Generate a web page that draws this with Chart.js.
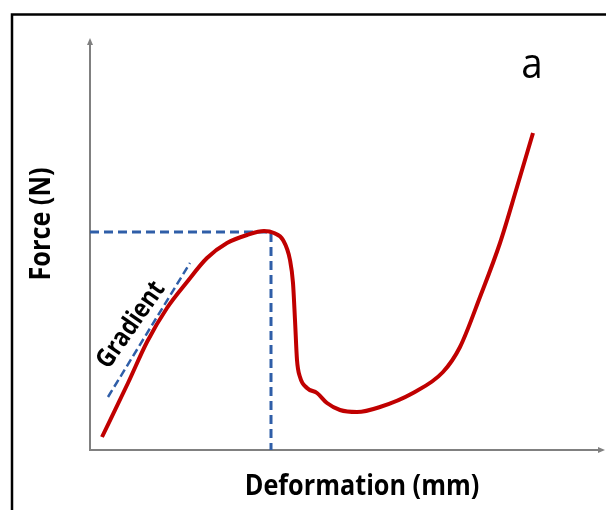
<!DOCTYPE html>
<html>
<head>
<meta charset="utf-8">
<script src="https://cdn.jsdelivr.net/npm/chart.js@4.4.1/dist/chart.umd.min.js"></script>
<style>
  html, body { margin: 0; padding: 0; background: #fff; }
  canvas { display: block; }
</style>
</head>
<body>
<canvas id="chart" width="606" height="510"></canvas>
<script>
// force-deformation curve (arbitrary units)
const curveX = [12, 38, 57, 77, 97, 117, 137, 157, 174, 184, 193, 200, 203, 205, 207, 210, 217, 227, 237, 250, 267, 290, 323, 353, 370, 390, 410, 427, 443];
const curveY = [13, 67, 108, 142, 168, 192, 207, 215, 219, 217, 210, 190, 167, 130, 90, 73, 62, 57, 47, 40, 38, 43, 57, 78, 103, 153, 207, 263, 317];

// peak guide lines and initial gradient
const peakX = 181;
const peakY = 218;
const gradientX = [18, 100];
const gradientY = [53, 187];

const xMax = 515;
const yMax = 412;

const toPoints = (xs, ys) => xs.map((x, i) => ({ x: x, y: ys[i] }));

const blue = '#2f5ea8';
const red = '#c00000';

// narrow bold text (the original uses a condensed face)
const drawText = (ctx, text, x, y, angle, font, squeeze) => {
    ctx.save();
    ctx.translate(x, y);
    ctx.rotate(angle);
    ctx.scale(squeeze, 1);
    ctx.font = font;
    ctx.fillText(text, 0, 0);
    ctx.restore();
};

// axes, frame and labels
const decorations = {
    id: 'decorations',
    beforeDatasetsDraw(chart) {
        const { ctx, chartArea: a } = chart;
        ctx.save();
        // frame
        ctx.strokeStyle = '#000';
        ctx.lineWidth = 2.5;
        ctx.strokeRect(12, 14.5, 700, 600);
        // axes
        ctx.strokeStyle = '#808080';
        ctx.fillStyle = '#808080';
        ctx.lineWidth = 2;
        ctx.beginPath();
        ctx.moveTo(a.left, a.top + 4);
        ctx.lineTo(a.left, a.bottom);
        ctx.lineTo(a.right - 4, a.bottom);
        ctx.stroke();
        ctx.beginPath();
        ctx.moveTo(a.left, a.top);
        ctx.lineTo(a.left - 3, a.top + 7);
        ctx.lineTo(a.left + 3, a.top + 7);
        ctx.fill();
        ctx.beginPath();
        ctx.moveTo(a.right, a.bottom);
        ctx.lineTo(a.right - 7, a.bottom - 3);
        ctx.lineTo(a.right - 7, a.bottom + 3);
        ctx.fill();
        ctx.restore();
    },
    afterDatasetsDraw(chart) {
        const { ctx } = chart;
        ctx.save();
        ctx.fillStyle = '#000';
        ctx.textAlign = 'center';
        ctx.textBaseline = 'alphabetic';
        const bold = 'bold 29px "Open Sans", sans-serif';
        drawText(ctx, 'Deformation (mm)', 362, 495, 0, bold, 0.87);
        drawText(ctx, 'Force (N)', 50, 224, -Math.PI / 2, bold, 0.87);
        ctx.textBaseline = 'middle';
        drawText(ctx, 'Gradient', 131, 325, -0.96, 'bold 26px "Open Sans", sans-serif', 0.87);
        ctx.textBaseline = 'alphabetic';
        drawText(ctx, 'a', 532, 78, 0, '42px "Open Sans", sans-serif', 0.92);
        ctx.restore();
    }
};

new Chart(document.getElementById('chart').getContext('2d'), {
    type: 'scatter',
    data: {
        datasets: [
            {
                label: 'Force',
                data: toPoints(curveX, curveY),
                showLine: true,
                borderColor: red,
                borderWidth: 4,
                pointRadius: 0,
                cubicInterpolationMode: 'monotone',
                order: 0
            },
            {
                label: 'Peak',
                data: [{ x: 0, y: peakY }, { x: peakX, y: peakY }, { x: peakX, y: 0 }],
                showLine: true,
                borderColor: blue,
                borderWidth: 3,
                borderDash: [9, 5],
                pointRadius: 0,
                order: 1
            },
            {
                label: 'Gradient',
                data: toPoints(gradientX, gradientY),
                showLine: true,
                borderColor: blue,
                borderWidth: 2.5,
                borderDash: [8, 4],
                pointRadius: 0,
                order: 1
            }
        ]
    },
    options: {
        responsive: false,
        animation: false,
        layout: { padding: { left: 90, top: 38, right: 1, bottom: 60 } },
        plugins: { legend: { display: false }, tooltip: { enabled: false } },
        scales: {
            x: { type: 'linear', min: 0, max: xMax, display: false },
            y: { type: 'linear', min: 0, max: yMax, display: false }
        }
    },
    plugins: [decorations]
});
</script>
</body>
</html>
